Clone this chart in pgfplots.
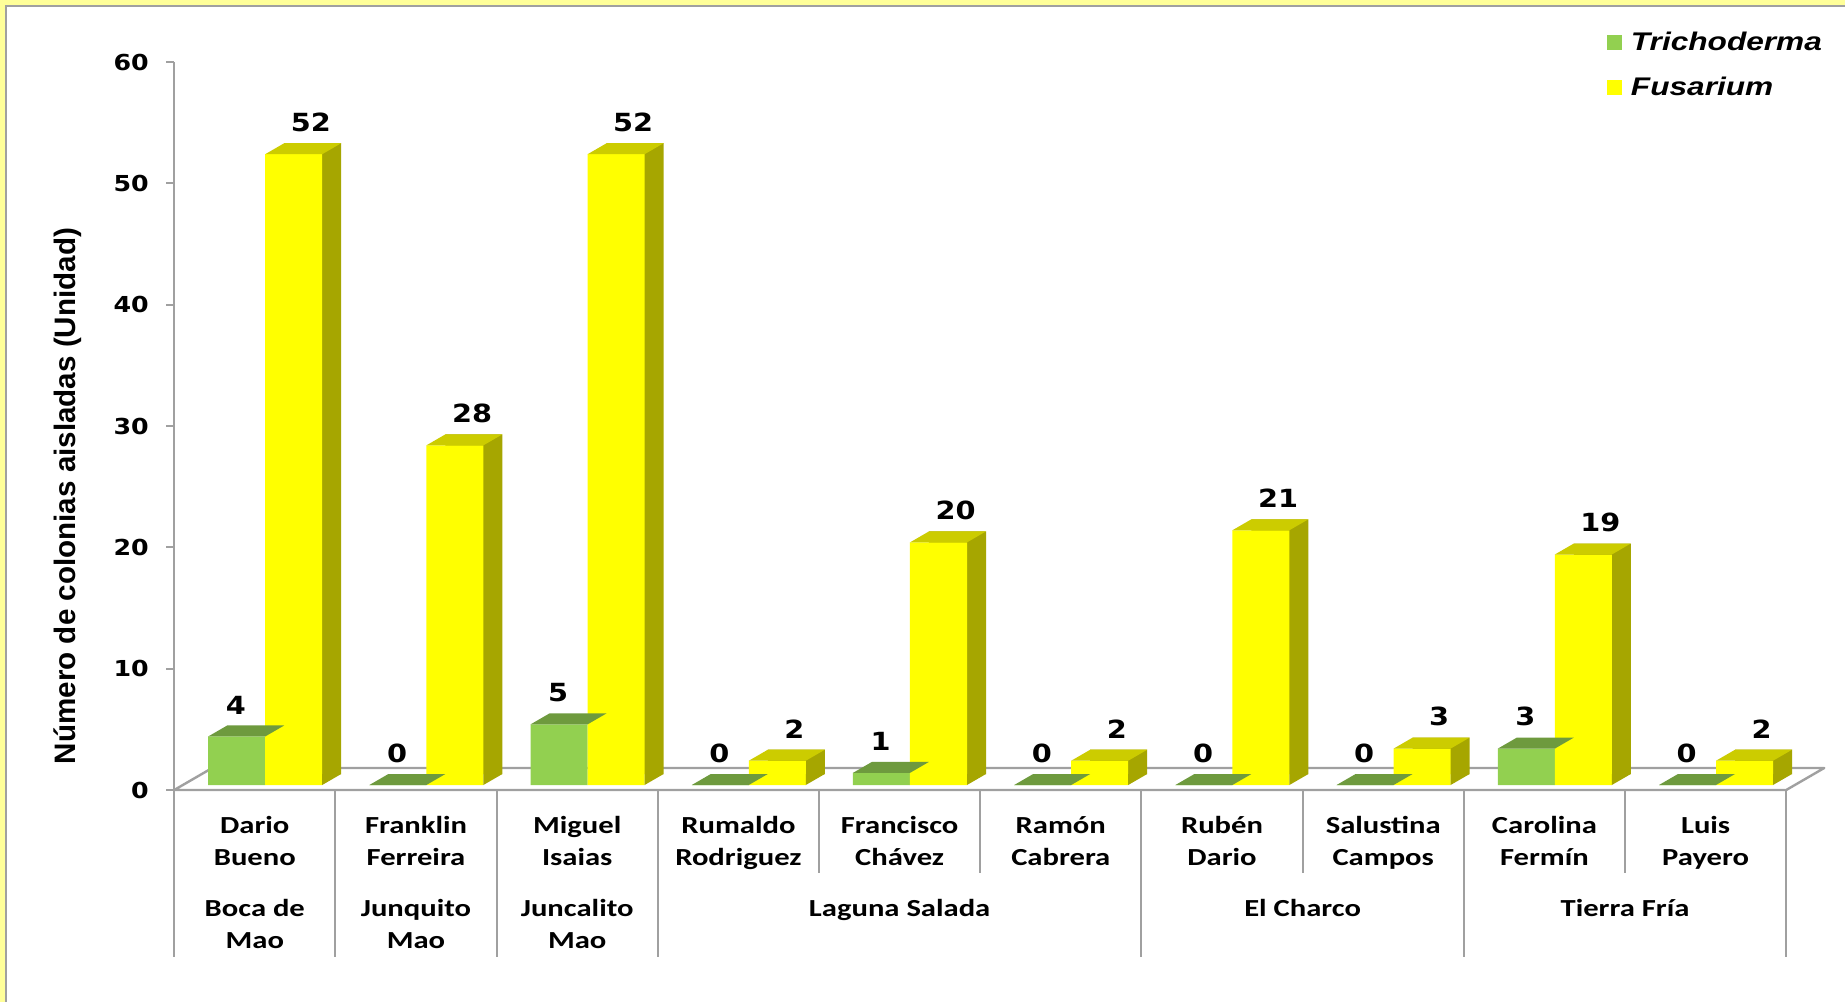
\documentclass[border=0pt]{standalone}
\usepackage{pgfplots}
\usepackage{pgfplotstable}
\pgfplotsset{compat=1.18}
\usepackage{fontspec}
\setmainfont{Carlito}
\newfontfamily\tickf[FakeStretch=1.15]{DejaVu Sans}
\newfontfamily\catf[FakeStretch=1.25]{Carlito}
\newfontfamily\ylabf{Liberation Sans}
\newfontfamily\legf[FakeStretch=1.24]{Liberation Sans}
\definecolor{gfront}{HTML}{92D050}
\definecolor{gtop}{HTML}{6E9A3E}
\definecolor{yfront}{HTML}{FFFF00}
\definecolor{ytop}{HTML}{CCCC00}
\definecolor{yside}{HTML}{A6A600}
\definecolor{axgray}{HTML}{A0A0A0}
\definecolor{framey}{HTML}{FFFF99}
\pgfdeclareplotmark{topface}{%
  \pgfpathmoveto{\pgfpoint{-14.25pt}{0pt}}%
  \pgfpathlineto{\pgfpoint{14.25pt}{0pt}}%
  \pgfpathlineto{\pgfpoint{23.75pt}{5.5pt}}%
  \pgfpathlineto{\pgfpoint{-4.75pt}{5.5pt}}%
  \pgfpathclose\pgfusepathqfill}
\pgfdeclareplotmark{sidetri}{%
  \pgfpathmoveto{\pgfpoint{14.25pt}{0pt}}%
  \pgfpathlineto{\pgfpoint{14.25pt}{5.5pt}}%
  \pgfpathlineto{\pgfpoint{23.75pt}{5.5pt}}%
  \pgfpathclose\pgfusepathqfill}
\pgfplotstableread{
x tri fus
0 4 52
1 0 28
2 5 52
3 0 2
4 1 20
5 0 2
6 0 21
7 0 3
8 3 19
9 0 2
}\data
\newcommand\catfont{\catf\bfseries\fontsize{12.25}{16}\selectfont}
\newcommand\valfont{\tickf\bfseries\fontsize{12.5}{15}\selectfont}
\begin{document}
\begin{tikzpicture}
\fill[framey] (0,0) rectangle (922.5pt,501pt);
\fill[white] (3pt,0) rectangle (922.5pt,498pt);
\draw[axgray, line width=0.8pt] (3pt,0) -- (3pt,498pt) -- (922.5pt,498pt);
\begin{axis}[
  at={(87.1pt,106pt)}, anchor=south west,
  x=80.6pt, y=6.065pt,
  xmin=-0.5, xmax=9.5, ymin=0, ymax=60,
  axis y line*=left, axis x line=none,
  ytick={0,10,...,60}, xtick=\empty,
  y axis line style={axgray, line width=1pt, -},
  ytick style={axgray, line width=1pt},
  tick align=outside, major tick length=4pt,
  yticklabel style={font=\tickf\bfseries\fontsize{11}{13}\selectfont, inner sep=0pt, xshift=-8.5pt},
  /pgf/number format/assume math mode=true,
  clip=false,
  ylabel={Número de colonias aisladas (Unidad)},
  every axis y label/.style={at={(axis description cs:-0.0658,0.404)}, rotate=90, anchor=center, font=\ylabf\bfseries\fontsize{14.8}{17}\selectfont},
  legend style={at={(axis cs:8.388,62.5)}, anchor=north west, draw=none, fill=none, inner sep=0pt, outer sep=0pt, row sep=12.9pt,
    font=\legf\bfseries\itshape\fontsize{12.75}{15}\selectfont, cells={anchor=west},
    nodes={inner sep=0pt, text height=9.5pt, text depth=0pt},
    /tikz/every odd column/.append style={column sep=4.5pt}},
  legend image code/.code={\fill[#1] (0pt,-7pt) rectangle (7.5pt,0.5pt);},
]
% floor
\fill[white] (axis cs:-0.5,0) -- (axis cs:9.5,0) -- ([xshift=19pt,yshift=11pt]axis cs:9.5,0) -- ([xshift=19pt,yshift=11pt]axis cs:-0.5,0) -- cycle;
\draw[axgray, line width=1.2pt, line join=round] (axis cs:-0.5,0) -- (axis cs:9.5,0) -- ([xshift=19pt,yshift=11pt]axis cs:9.5,0) -- ([xshift=19pt,yshift=11pt]axis cs:-0.5,0) -- cycle;
% dividers
\draw[axgray, line width=1pt] (axis cs:-0.5,0) -- ([yshift=-83.5pt]axis cs:-0.5,0);
\draw[axgray, line width=1pt] (axis cs:0.5,0) -- ([yshift=-83.5pt]axis cs:0.5,0);
\draw[axgray, line width=1pt] (axis cs:1.5,0) -- ([yshift=-83.5pt]axis cs:1.5,0);
\draw[axgray, line width=1pt] (axis cs:2.5,0) -- ([yshift=-83.5pt]axis cs:2.5,0);
\draw[axgray, line width=1pt] (axis cs:3.5,0) -- ([yshift=-41.5pt]axis cs:3.5,0);
\draw[axgray, line width=1pt] (axis cs:4.5,0) -- ([yshift=-41.5pt]axis cs:4.5,0);
\draw[axgray, line width=1pt] (axis cs:5.5,0) -- ([yshift=-83.5pt]axis cs:5.5,0);
\draw[axgray, line width=1pt] (axis cs:6.5,0) -- ([yshift=-41.5pt]axis cs:6.5,0);
\draw[axgray, line width=1pt] (axis cs:7.5,0) -- ([yshift=-83.5pt]axis cs:7.5,0);
\draw[axgray, line width=1pt] (axis cs:8.5,0) -- ([yshift=-41.5pt]axis cs:8.5,0);
\draw[axgray, line width=1pt] (axis cs:9.5,0) -- ([yshift=-83.5pt]axis cs:9.5,0);
% Trichoderma
\addplot[ybar, bar width=0.3536, bar shift=-0.162, fill=gfront, draw=none, xshift=4pt, yshift=2.5pt,
  nodes near coords, nodes near coords style={font=\valfont, text=black, anchor=south, inner sep=0pt, yshift=11pt, xshift=-13.5pt}]
  table[x=x, y=tri]{\data};
\addlegendentry{Trichoderma}
\addplot[only marks, mark=topface, color=gtop, mark options={fill=gtop, draw=none}, xshift=4pt, yshift=2.5pt, forget plot]
  table[x expr=\thisrow{x}-0.162, y=tri]{\data};
% Fusarium
\addplot[ybar, bar width=0.3536, bar shift=0.1916, fill=yside, draw=none, xshift=13.5pt, yshift=8pt, forget plot]
  table[x=x, y=fus]{\data};
\addplot[only marks, mark=sidetri, color=yside, mark options={fill=yside, draw=none}, xshift=4pt, yshift=2.5pt, forget plot]
  table[x expr=\thisrow{x}+0.1916, y expr=0]{\data};
\addplot[ybar, bar width=0.3536, bar shift=0.1916, fill=yfront, draw=none, xshift=4pt, yshift=2.5pt,
  nodes near coords, nodes near coords style={font=\valfont, text=black, anchor=south, inner sep=0pt, yshift=11pt, xshift=24pt}]
  table[x=x, y=fus]{\data};
\addlegendentry{Fusarium}
\addplot[only marks, mark=topface, color=ytop, mark options={fill=ytop, draw=none}, xshift=4pt, yshift=2.5pt, forget plot]
  table[x expr=\thisrow{x}+0.1916, y=fus]{\data};
% category labels
\node[anchor=base, font=\catfont] at ([yshift=-21.5pt]axis cs:0,0) {Dario};
\node[anchor=base, font=\catfont] at ([yshift=-37.5pt]axis cs:0,0) {Bueno};
\node[anchor=base, font=\catfont] at ([yshift=-21.5pt]axis cs:1,0) {Franklin};
\node[anchor=base, font=\catfont] at ([yshift=-37.5pt]axis cs:1,0) {Ferreira};
\node[anchor=base, font=\catfont] at ([yshift=-21.5pt]axis cs:2,0) {Miguel};
\node[anchor=base, font=\catfont] at ([yshift=-37.5pt]axis cs:2,0) {Isaias};
\node[anchor=base, font=\catfont] at ([yshift=-21.5pt]axis cs:3,0) {Rumaldo};
\node[anchor=base, font=\catfont] at ([yshift=-37.5pt]axis cs:3,0) {Rodriguez};
\node[anchor=base, font=\catfont] at ([yshift=-21.5pt]axis cs:4,0) {Francisco};
\node[anchor=base, font=\catfont] at ([yshift=-37.5pt]axis cs:4,0) {Chávez};
\node[anchor=base, font=\catfont] at ([yshift=-21.5pt]axis cs:5,0) {Ramón};
\node[anchor=base, font=\catfont] at ([yshift=-37.5pt]axis cs:5,0) {Cabrera};
\node[anchor=base, font=\catfont] at ([yshift=-21.5pt]axis cs:6,0) {Rubén};
\node[anchor=base, font=\catfont] at ([yshift=-37.5pt]axis cs:6,0) {Dario};
\node[anchor=base, font=\catfont] at ([yshift=-21.5pt]axis cs:7,0) {Salustina};
\node[anchor=base, font=\catfont] at ([yshift=-37.5pt]axis cs:7,0) {Campos};
\node[anchor=base, font=\catfont] at ([yshift=-21.5pt]axis cs:8,0) {Carolina};
\node[anchor=base, font=\catfont] at ([yshift=-37.5pt]axis cs:8,0) {Fermín};
\node[anchor=base, font=\catfont] at ([yshift=-21.5pt]axis cs:9,0) {Luis};
\node[anchor=base, font=\catfont] at ([yshift=-37.5pt]axis cs:9,0) {Payero};
% group labels
\node[anchor=base, font=\catfont] at ([yshift=-63pt]axis cs:0,0) {Boca de};
\node[anchor=base, font=\catfont] at ([yshift=-79pt]axis cs:0,0) {Mao};
\node[anchor=base, font=\catfont] at ([yshift=-63pt]axis cs:1,0) {Junquito};
\node[anchor=base, font=\catfont] at ([yshift=-79pt]axis cs:1,0) {Mao};
\node[anchor=base, font=\catfont] at ([yshift=-63pt]axis cs:2,0) {Juncalito};
\node[anchor=base, font=\catfont] at ([yshift=-79pt]axis cs:2,0) {Mao};
\node[anchor=base, font=\catfont] at ([yshift=-63pt]axis cs:4,0) {Laguna Salada};
\node[anchor=base, font=\catfont] at ([yshift=-63pt]axis cs:6.5,0) {El Charco};
\node[anchor=base, font=\catfont] at ([yshift=-63pt]axis cs:8.5,0) {Tierra Fría};
\end{axis}
\pgfresetboundingbox
\useasboundingbox (0,0) rectangle (922.5pt,501pt);
\end{tikzpicture}
\end{document}
